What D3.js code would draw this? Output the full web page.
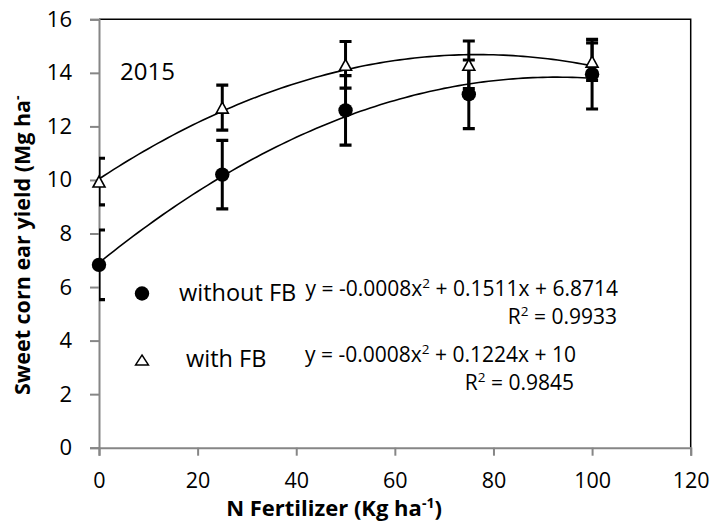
<!DOCTYPE html>
<html>
<head>
<meta charset="utf-8">
<script src="https://cdn.jsdelivr.net/npm/d3@7"></script>
<style>
  html, body { margin: 0; padding: 0; background: #fff; }
  svg { display: block; }
  text { font-family: "Open Sans", "Lato", sans-serif; fill: #000; }
</style>
</head>
<body>
<svg id="chart" width="714" height="525"></svg>
<script>
// ---- data ----
const nRates = [0, 25, 50, 75, 100];
const withoutFB = [6.83, 10.2, 12.6, 13.2, 13.95];
const withoutFBErr = [1.3, 1.28, 1.3, 1.28, 1.3];
const withFB = [9.94, 12.7, 14.3, 14.3, 14.42];
const withFBErr = [0.87, 0.84, 0.87, 0.89, 0.7];
const xTicks = [0, 20, 40, 60, 80, 100, 120];
const yTicks = [0, 2, 4, 6, 8, 10, 12, 14, 16];
const seriesNames = ["without FB", "with FB"];
const eqWithout = ["y = -0.0008x", "2", " + 0.1511x + 6.8714"];
const r2Without = "0.9933";
const eqWith = ["y = -0.0008x", "2", " + 0.1224x + 10"];
const r2With = "0.9845";
const yearLabel = "2015";

// ---- layout ----
const svg = d3.select("#chart");
const L = 99, R = 690.7, T = 19.3, B = 447.7;
const x = d3.scaleLinear().domain([0, 120]).range([L, R]);
const y = d3.scaleLinear().domain([0, 16]).range([B, T]);
const axisGray = "#868686";

// quadratic least-squares fit
function quadFit(xs, ys) {
  const n = xs.length;
  let S = Array(5).fill(0), Ty = Array(3).fill(0);
  for (let i = 0; i < n; i++) {
    for (let k = 0; k < 5; k++) S[k] += Math.pow(xs[i], k);
    for (let k = 0; k < 3; k++) Ty[k] += Math.pow(xs[i], k) * ys[i];
  }
  const M = [[S[0], S[1], S[2], Ty[0]], [S[1], S[2], S[3], Ty[1]], [S[2], S[3], S[4], Ty[2]]];
  for (let c = 0; c < 3; c++) {
    let p = c;
    for (let r = c + 1; r < 3; r++) if (Math.abs(M[r][c]) > Math.abs(M[p][c])) p = r;
    [M[c], M[p]] = [M[p], M[c]];
    for (let r = 0; r < 3; r++) {
      if (r === c) continue;
      const f = M[r][c] / M[c][c];
      for (let k = c; k < 4; k++) M[r][k] -= f * M[c][k];
    }
  }
  return [M[0][3] / M[0][0], M[1][3] / M[1][1], M[2][3] / M[2][2]];
}

// clip
svg.append("defs").append("clipPath").attr("id", "plotClip")
  .append("rect").attr("x", L).attr("y", T).attr("width", R - L).attr("height", B - T);

// border top/right (black)
svg.append("path")
  .attr("d", `M${L},${T}H${R}V${B}`)
  .attr("fill", "none").attr("stroke", "#000").attr("stroke-width", 1.5);

// y axis
const yAxis = d3.axisLeft(y).tickValues(yTicks).tickSize(9).tickPadding(18).tickFormat(d3.format("d"));
const gy = svg.append("g").attr("transform", `translate(${L},0)`).call(yAxis);
gy.select(".domain").attr("stroke", axisGray).attr("stroke-width", 2);
gy.selectAll(".tick line").attr("stroke", axisGray).attr("stroke-width", 2);
gy.selectAll(".tick text").attr("font-size", 22).attr("font-family", "Open Sans").attr("fill", "#000");

// x axis
const xAxis = d3.axisBottom(x).tickValues(xTicks).tickSize(8).tickPadding(17).tickFormat(d3.format("d"));
const gx = svg.append("g").attr("transform", `translate(0,${B})`).call(xAxis);
gx.select(".domain").attr("stroke", axisGray).attr("stroke-width", 2);
gx.selectAll(".tick line").attr("stroke", axisGray).attr("stroke-width", 2);
gx.selectAll(".tick text").attr("font-size", 21.5).attr("font-family", "Open Sans").attr("fill", "#000");

// trendlines
const series = [
  { vals: withoutFB, err: withoutFBErr },
  { vals: withFB, err: withFBErr }
];
const line = d3.line().x(d => x(d[0])).y(d => y(d[1]));
series.forEach(s => {
  const c = quadFit(nRates, s.vals);
  const pts = d3.range(0, 100.01, 1).map(v => [v, c[0] + c[1] * v + c[2] * v * v]);
  svg.append("path").datum(pts).attr("d", line)
    .attr("fill", "none").attr("stroke", "#000").attr("stroke-width", 1.6);
});

// error bars
const eb = svg.append("g").attr("clip-path", "url(#plotClip)");
series.forEach(s => {
  nRates.forEach((n, i) => {
    const cx = x(n), lo = y(s.vals[i] - s.err[i]), hi = y(s.vals[i] + s.err[i]);
    eb.append("line").attr("x1", cx).attr("x2", cx).attr("y1", lo).attr("y2", hi)
      .attr("stroke", "#000").attr("stroke-width", 3);
    [lo, hi].forEach(yy => eb.append("line")
      .attr("x1", cx - 6).attr("x2", cx + 6).attr("y1", yy).attr("y2", yy)
      .attr("stroke", "#000").attr("stroke-width", 3.2));
  });
});

// markers
const circ = d3.symbol().type(d3.symbolCircle).size(Math.PI * 7.2 * 7.2);
function triPath(cx, cy, w, h) {
  return `M${cx},${cy - h / 2}L${cx + w / 2},${cy + h / 2}L${cx - w / 2},${cy + h / 2}Z`;
}
nRates.forEach((n, i) => {
  svg.append("path").attr("d", circ())
    .attr("transform", `translate(${x(n)},${y(withoutFB[i])})`).attr("fill", "#000");
});
nRates.forEach((n, i) => {
  svg.append("path").attr("d", triPath(x(n), y(withFB[i]), 12, 11))
    .attr("fill", "#fff").attr("stroke", "#000").attr("stroke-width", 1.6).attr("stroke-linejoin", "miter");
});

// year label
svg.append("text").attr("x", 120).attr("y", 80).attr("font-size", 24).text(yearLabel);

// legend
svg.append("path").attr("d", circ()).attr("transform", "translate(142,293.5)").attr("fill", "#000");
svg.append("text").attr("x", 179).attr("y", 301).attr("font-size", 23.5).text(seriesNames[0]);
svg.append("path").attr("d", triPath(142, 360, 13, 10))
  .attr("fill", "#fff").attr("stroke", "#000").attr("stroke-width", 1.4);
svg.append("text").attr("x", 186).attr("y", 366.5).attr("font-size", 23.5).text(seriesNames[1]);

// equations
function eq(parts, xEnd, yb) {
  const t = svg.append("text").attr("x", xEnd).attr("y", yb).attr("text-anchor", "end").attr("font-size", 21);
  t.append("tspan").text(parts[0]);
  t.append("tspan").attr("dy", -8).attr("font-size", 13.5).text(parts[1]);
  t.append("tspan").attr("dy", 8).text(parts[2]);
}
function r2(val, xEnd, yb) {
  const t = svg.append("text").attr("x", xEnd).attr("y", yb).attr("text-anchor", "end").attr("font-size", 21);
  t.append("tspan").text("R");
  t.append("tspan").attr("dy", -8).attr("font-size", 13.5).text("2");
  t.append("tspan").attr("dy", 8).text(" = " + val);
}
eq(eqWithout, 618, 295.5);
r2(r2Without, 617, 324);
eq(eqWith, 576, 361.5);
r2(r2With, 574, 390);

// axis titles
const xt = svg.append("text").attr("x", 334).attr("y", 516).attr("text-anchor", "middle")
  .attr("font-size", 22).attr("font-weight", "bold");
xt.append("tspan").text("N Fertilizer (Kg ha");
xt.append("tspan").attr("dy", -8).attr("font-size", 14).text("-1");
xt.append("tspan").attr("dy", 8).text(")");

const yt = svg.append("text").attr("transform", "translate(30,395) rotate(-90)")
  .attr("text-anchor", "start").attr("font-size", 21.5).attr("font-weight", "bold");
yt.append("tspan").text("Sweet corn ear yield (Mg ha");
yt.append("tspan").attr("dy", -8).attr("font-size", 14).text("-");
</script>
</body>
</html>
